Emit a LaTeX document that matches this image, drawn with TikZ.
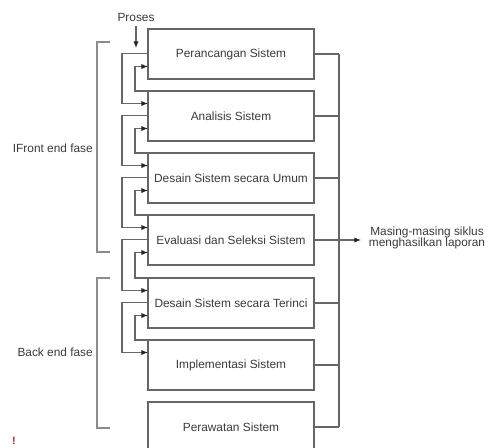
\documentclass[tikz,border=0pt]{standalone}
\usepackage{fontspec}
\setmainfont{Liberation Sans}
\usetikzlibrary{arrows.meta,calc}
\definecolor{linegray}{HTML}{666666}
\definecolor{bracketgray}{HTML}{8C8C8C}
\definecolor{textgray}{HTML}{3A3A3A}
\definecolor{markred}{HTML}{A02828}

\begin{document}
\begin{tikzpicture}[x=0.75pt,y=-0.75pt,
  box/.style={draw=linegray, line width=0.8pt, minimum width=124.5pt,
    minimum height=37.5pt, inner sep=0pt, outer sep=0pt,
    font=\fontsize{8.9}{10}\selectfont, text=textgray},
  link/.style={draw=linegray, line width=0.8pt},
  feed/.style={link, -{Latex[length=5pt,width=4pt,color=black!85]}},
  label/.style={font=\fontsize{8.9}{8.6}\selectfont, text=textgray, inner sep=0pt},
  brace/.style={draw=bracketgray, line width=0.8pt}]
\useasboundingbox (0,0) rectangle (492,447);
\clip (0,0) rectangle (492,447);

% phase boxes
\node[box] (b1) at (231,54)  {Perancangan Sistem};
\node[box] (b2) at (231,116) {Analisis Sistem};
\node[box] (b3) at (231,178) {Desain Sistem secara Umum};
\node[box] (b4) at (231,240) {Evaluasi dan Seleksi Sistem};
\node[box] (b5) at (231,303) {Desain Sistem secara Terinci};
\node[box] (b6) at (231,365) {Implementasi Sistem};
\node[box] (b7) at (231,427) {Perawatan Sistem};

% input arrow
\node[label] (proses) at (136,17) {Proses};
\coordinate (prosestip) at (136,48);
\draw[feed, shorten <=3.5pt] (proses.south) -- (prosestip);

% forward and feedback loops on the left
\foreach \a/\b in {b1/b2,b2/b3,b3/b4,b4/b5,b5/b6}{
  \draw[feed] ($(\a.north west)+(0,24.5)$) -- ++(-26,0) |- ($(\b.north west)+(0,12.5)$);
  \draw[feed] (\b.north west) -- ++(-13,0) |- ($(\a.north west)+(0,37.5)$);
}

% report bus on the right
\coordinate (busx) at (339,0);
\foreach \n in {b1,b2,b3,b4,b5,b6,b7}{
  \draw[link] (\n.east) -- (\n.east -| busx);
}
\draw[link] (b1.east -| busx) -- (b7.east -| busx);
\coordinate (outtip) at (361,240);
\draw[feed] (b4.east) -- (outtip);
\node[label, align=center] (out) at (427,238) {Masing-masing siklus\\menghasilkan laporan};

% phase brackets
\draw[brace] (110,42) -- (97,42) -- (97,252) -- (110,252);
\draw[brace] (110,278) -- (97,278) -- (97,428) -- (110,428);
\node[label, anchor=east] (front) at (93,148) {IFront end fase};
\node[label, anchor=east] (back) at (93,352) {Back end fase};

\node[text=markred, font=\bfseries\fontsize{8}{8}\selectfont, inner sep=0pt] (mark) at (14,441) {!};
\end{tikzpicture}
\end{document}
